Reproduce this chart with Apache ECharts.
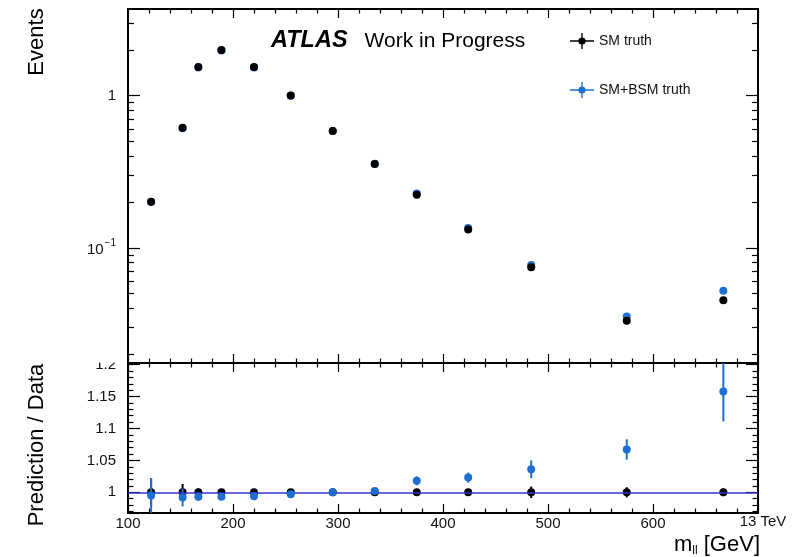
<!DOCTYPE html>
<html>
<head>
<meta charset="utf-8">
<script src="https://cdn.jsdelivr.net/npm/echarts@6/dist/echarts.min.js"></script>
<style>
html,body{margin:0;padding:0;background:#fff;}
#chart{width:797px;height:557px;}
</style>
</head>
<body>
<div id="chart"></div>
<script>
// ---- data ----
const xCenters = [122, 152, 167, 189, 220, 255, 295, 335, 375, 424, 484, 575, 667];
const smTruth = [0.201, 0.615, 1.54, 1.99, 1.54, 1.0, 0.585, 0.355, 0.223, 0.132, 0.0744, 0.0332, 0.0452];
const smBsmTruth = [0.200, 0.610, 1.53, 1.98, 1.53, 0.997, 0.585, 0.356, 0.227, 0.135, 0.0771, 0.0354, 0.0523];
const ratioSM = [1, 1, 1, 1, 1, 1, 1, 1, 1, 1, 1, 1, 1];
const ratioSMErr = [0.022, 0.013, 0.006, 0.004, 0.004, 0.004, 0.003, 0.003, 0.004, 0.005, 0.009, 0.008, 0.006];
const ratioSMBSM = [0.995, 0.992, 0.993, 0.993, 0.994, 0.997, 1.000, 1.002, 1.018, 1.023, 1.036, 1.067, 1.158];
const ratioSMBSMErr = [0.027, 0.014, 0.006, 0.005, 0.005, 0.004, 0.004, 0.004, 0.007, 0.008, 0.014, 0.016, 0.047];
const xTickLabels = [100, 200, 300, 400, 500, 600];
const topMajorTicks = [0.1, 1];
const topMinorTicks = [0.02, 0.03, 0.04, 0.05, 0.06, 0.07, 0.08, 0.09, 0.2, 0.3, 0.4, 0.5, 0.6, 0.7, 0.8, 0.9, 2, 3];
const ratioMajorTicks = [1, 1.05, 1.1, 1.15, 1.2];
const ratioMinorTicks = [0.97, 0.98, 0.99, 1.01, 1.02, 1.03, 1.04, 1.06, 1.07, 1.08, 1.09, 1.11, 1.12, 1.13, 1.14, 1.16, 1.17, 1.18, 1.19];

const FONT = "'Liberation Sans', Arial, Helvetica, sans-serif";
const BLACK = '#000000';
const BLUE = '#1f6fd1';
const LINEBLUE = '#3434cf';

const chart = echarts.init(document.getElementById('chart'), null, {renderer: 'canvas'});

const frameLine = {show: true, lineStyle: {color: BLACK, width: 2}};

function xAxisDef(gridIndex, position, showLabels) {
  return {
    type: 'value', gridIndex: gridIndex, position: position,
    min: 100, max: 700, interval: 100,
    axisLine: frameLine,
    axisTick: {show: true, inside: true, length: 9, lineStyle: {color: BLACK, width: 1.2}},
    minorTick: {show: true, splitNumber: 5, length: 4.5, lineStyle: {color: BLACK, width: 1.2}},
    splitLine: {show: false}, minorSplitLine: {show: false},
    axisLabel: showLabels ? {
      show: true, customValues: xTickLabels, margin: 3,
      fontSize: 15, fontFamily: FONT, color: '#111'
    } : {show: false}
  };
}

function yAxisDef(gridIndex, position, type, min, max, ticks, tickLen, showLine, label) {
  return {
    type: type, gridIndex: gridIndex, position: position,
    min: min, max: max,
    axisLine: showLine ? frameLine : {show: false},
    axisTick: {show: true, inside: true, length: tickLen, customValues: ticks,
               lineStyle: {color: BLACK, width: 1.2}},
    splitLine: {show: false},
    axisLabel: label || {show: false}
  };
}

const topMin = 0.0175, topMax = 3.707;
const ratMin = 0.9676, ratMax = 1.2025;

function errBar(color, width) {
  return function (params, api) {
    const x = api.value(0), y = api.value(1), e = api.value(2);
    const p1 = api.coord([x, y - e]);
    const p2 = api.coord([x, y + e]);
    return {type: 'line', shape: {x1: p1[0], y1: p1[1], x2: p2[0], y2: p2[1]},
            style: {stroke: color, lineWidth: width}};
  };
}

const legendIcon = 'path://M0,7.3L24,7.3L24,8.7L0,8.7Z M11.3,0L12.7,0L12.7,16L11.3,16Z M8.4,8A3.6,3.6,0,1,1,15.6,8A3.6,3.6,0,1,1,8.4,8Z';

const option = {
  animation: false,
  backgroundColor: '#ffffff',
  grid: [
    {left: 128, right: 39, top: 9, height: 354},
    {left: 128, right: 39, top: 363, height: 150}
  ],
  legend: {
    orient: 'vertical', left: 565, top: 28,
    itemWidth: 24, itemHeight: 16, itemGap: 33,
    itemStyle: {opacity: 1, borderWidth: 0},
    textStyle: {fontSize: 14, fontFamily: FONT, color: '#111'},
    data: [{name: 'SM truth', icon: legendIcon}, {name: 'SM+BSM truth', icon: legendIcon}]
  },
  xAxis: [
    xAxisDef(0, 'bottom', false),
    xAxisDef(0, 'top', false),
    xAxisDef(1, 'bottom', true),
    xAxisDef(1, 'top', false)
  ],
  yAxis: [
    yAxisDef(0, 'left', 'log', topMin, topMax, topMajorTicks, 12, true, {
      show: true, customValues: topMajorTicks, margin: 12, fontSize: 15, fontFamily: FONT, color: '#111',
      formatter: function (v) { return v > 0.5 ? '1' : '{b|10}{s|\u22121}'; },
      rich: {
        b: {fontSize: 15, fontFamily: FONT, color: '#111', lineHeight: 20, verticalAlign: 'bottom'},
        s: {fontSize: 10, fontFamily: FONT, color: '#111', lineHeight: 20, verticalAlign: 'top', padding: [0, 0, 0, 1]}
      }
    }),
    yAxisDef(0, 'left', 'log', topMin, topMax, topMinorTicks, 6, false),
    yAxisDef(0, 'right', 'log', topMin, topMax, topMajorTicks, 12, true),
    yAxisDef(0, 'right', 'log', topMin, topMax, topMinorTicks, 6, false),
    yAxisDef(1, 'left', 'value', ratMin, ratMax, ratioMajorTicks, 12, true, {
      show: true, customValues: ratioMajorTicks, margin: 12, fontSize: 15, fontFamily: FONT, color: '#111'
    }),
    yAxisDef(1, 'left', 'value', ratMin, ratMax, ratioMinorTicks, 5.5, false),
    yAxisDef(1, 'right', 'value', ratMin, ratMax, ratioMajorTicks, 12, true),
    yAxisDef(1, 'right', 'value', ratMin, ratMax, ratioMinorTicks, 5.5, false)
  ],
  series: [
    {
      name: 'SM+BSM truth', type: 'scatter', xAxisIndex: 0, yAxisIndex: 0,
      symbol: 'circle', symbolSize: 8, itemStyle: {color: BLUE, opacity: 1}, z: 2,
      data: xCenters.map(function (x, i) { return [x, smBsmTruth[i]]; })
    },
    {
      name: 'SM truth', type: 'scatter', xAxisIndex: 0, yAxisIndex: 0,
      symbol: 'circle', symbolSize: 8, itemStyle: {color: BLACK, opacity: 1}, z: 3,
      data: xCenters.map(function (x, i) { return [x, smTruth[i]]; })
    },
    {
      name: 'ref', type: 'line', xAxisIndex: 2, yAxisIndex: 4, data: [], z: 1,
      markLine: {
        silent: true, symbol: 'none', animation: false,
        lineStyle: {color: LINEBLUE, width: 1.5, type: 'solid'},
        label: {show: false},
        data: [{yAxis: 1}]
      }
    },
    {
      name: 'SM truth', type: 'custom', xAxisIndex: 2, yAxisIndex: 4, clip: true, z: 2,
      renderItem: errBar(BLACK, 2),
      data: xCenters.map(function (x, i) { return [x, ratioSM[i], ratioSMErr[i]]; })
    },
    {
      name: 'SM truth', type: 'scatter', xAxisIndex: 2, yAxisIndex: 4,
      symbol: 'circle', symbolSize: 8, itemStyle: {color: BLACK, opacity: 1}, z: 3,
      data: xCenters.map(function (x, i) { return [x, ratioSM[i]]; })
    },
    {
      name: 'SM+BSM truth', type: 'custom', xAxisIndex: 2, yAxisIndex: 4, clip: true, z: 4,
      renderItem: errBar(BLUE, 2),
      data: xCenters.map(function (x, i) { return [x, ratioSMBSM[i], ratioSMBSMErr[i]]; })
    },
    {
      name: 'SM+BSM truth', type: 'scatter', xAxisIndex: 2, yAxisIndex: 4,
      symbol: 'circle', symbolSize: 8, itemStyle: {color: BLUE, opacity: 1}, z: 5,
      data: xCenters.map(function (x, i) { return [x, ratioSMBSM[i]]; })
    }
  ],
  graphic: [
    {type: 'rect', z: 100, shape: {x: 60, y: 330, width: 66, height: 32.5}, style: {fill: '#ffffff'}},
    {
      type: 'text', z: 101, x: 271, y: 41,
      style: {
        text: '{a|ATLAS}{b|Work in Progress}', verticalAlign: 'middle', align: 'left',
        rich: {
          a: {fontSize: 23.5, fontWeight: 'bold', fontStyle: 'italic', fontFamily: FONT, fill: BLACK},
          b: {fontSize: 21, fontFamily: FONT, fill: BLACK, padding: [0, 0, 0, 17]}
        }
      }
    },
    {
      type: 'text', z: 101, x: 37, y: 42, rotation: Math.PI / 2,
      style: {text: 'Events', fontSize: 22, fontFamily: FONT, fill: BLACK, align: 'center', verticalAlign: 'middle'}
    },
    {
      type: 'text', z: 101, x: 37, y: 445, rotation: Math.PI / 2,
      style: {text: 'Prediction / Data', fontSize: 22, fontFamily: FONT, fill: BLACK, align: 'center', verticalAlign: 'middle'}
    },
    {
      type: 'text', z: 101, x: 763, y: 522,
      style: {text: '13 TeV', fontSize: 15, fontFamily: FONT, fill: '#111', align: 'center', verticalAlign: 'middle'}
    },
    {
      type: 'text', z: 101, x: 760, y: 545,
      style: {
        text: '{m|m}{s|ll}{m| [GeV]}', align: 'right', verticalAlign: 'middle',
        rich: {
          m: {fontSize: 22, fontFamily: FONT, fill: BLACK, lineHeight: 26},
          s: {fontSize: 12, fontFamily: FONT, fill: BLACK, lineHeight: 26, padding: [12, 0, 0, 0]}
        }
      }
    }
  ]
};

chart.setOption(option);
</script>
</body>
</html>
